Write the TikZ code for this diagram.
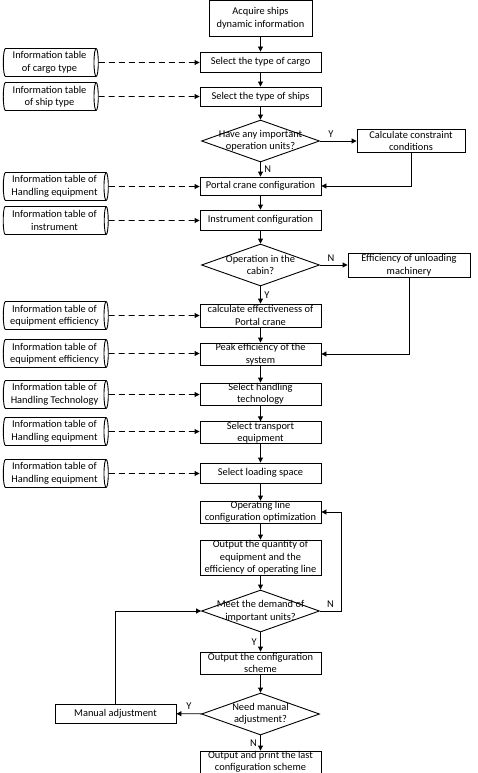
\documentclass[tikz,border=0pt]{standalone}
\usepackage{fontspec}
\setmainfont{Carlito}
\usetikzlibrary{arrows.meta,shapes.geometric,calc}

\begin{document}
\begin{tikzpicture}[x=1pt,y=-1pt,font=\fontsize{10.4}{12.5}\selectfont,
  box/.style={draw,line width=.9pt,minimum width=121,inner sep=0pt,align=center},
  dec/.style={draw,diamond,line width=.9pt,minimum width=118,minimum height=42,inner sep=0pt},
  dtext/.style={align=center,inner sep=0pt},
  db/.style={draw,cylinder,shape aspect=.2,line width=.9pt,minimum width=28,inner sep=0pt,align=center},
  arr/.style={-{Triangle[length=5pt,width=5pt]},line width=.9pt},
  darr/.style={arr,dash pattern=on 6pt off 4pt}]
\useasboundingbox (0,0) rectangle (478,773);
% main column
\node[box,minimum width=103,minimum height=36] (acq) at (260.5,18) {Acquire ships\\dynamic information};
\foreach \n/\y/\h/\t in {cargo/62/20/{Select the type of cargo},ships/96.5/19/{Select the type of ships},
  portal/186/18/{Portal crane configuration},instr/220/20/{Instrument configuration},
  calceff/315.5/23/{calculate effectiveness of\\Portal crane},peak/354/22/{Peak efficiency of the\\system},
  tech/394/22/{Select handling\\technology},trans/432.5/21/{Select transport\\equipment},
  load/473/20/{Select loading space},opt/512/22/{Operating line\\configuration optimization},
  out/557.5/35/{Output the quantity of\\equipment and the\\efficiency of operating line},
  scheme/663/22/{Output the configuration\\scheme},print/762/22/{Output and print the last\\configuration scheme}}
  \node[box,minimum height=\h] (\n) at (260.5,\y) {\t};
\node[dec,label={[dtext]center:Have any important\\operation units?}] (d1) at (260.5,141) {};
\node[dec,label={[dtext]center:Operation in the\\cabin?}] (d2) at (260.5,265) {};
\node[dec,label={[dtext]center:Meet the demand of\\important units?}] (d3) at (260.5,611) {};
\node[dec,label={[dtext]center:Need manual\\adjustment?}] (d4) at (260.5,714) {};
% side boxes
\node[box,minimum width=108,minimum height=23] (calc) at (411,141) {Calculate constraint\\conditions};
\node[box,minimum width=122,minimum height=24] (eff) at (409,265) {Efficiency of unloading\\machinery};
\node[box,minimum height=19] (manual) at (115.5,713.5) {Manual adjustment};
% information tables
\foreach \n/\y/\w/\t/\tgt in {c1/62.5/95/{Information table\\of cargo type}/cargo,
  c2/96.5/95/{Information table\\of ship type}/ships,
  c3/186.5/105/{Information table of\\Handling equipment}/portal,
  c4/220.5/105/{Information table of\\instrument}/instr,
  c5/315.5/105/{Information table of\\equipment efficiency}/calceff,
  c6/353.5/105/{Information table of\\equipment efficiency}/peak,
  c7/394.5/105/{Information table of\\Handling Technology}/tech,
  c8/431.5/105/{Information table of\\Handling equipment}/trans,
  c9/473.5/105/{Information table of\\Handling equipment}/load} {
  \node[db,minimum height=\w] (\n) at (2+\w/2,\y) {\t};
  \draw[darr] (\n) -- (\n -| \tgt.west);}
% flow
\foreach \a/\b in {acq/cargo,cargo/ships,ships/d1,portal/instr,instr/d2,calceff/peak,peak/tech,
  tech/trans,trans/load,load/opt,opt/out,out/d3,scheme/d4}
  \draw[arr] (\a) -- (\b);
\draw[arr] (d1) -- node[above,pos=.3] (y1) {Y} (calc);
\draw[arr] (d1) -- node[right] (n1) {N} (portal);
\draw[arr] (calc) |- (portal);
\draw[arr] (d2) -- node[above,pos=.4] (n2) {N} (eff);
\draw[arr] (d2) -- node[right] (y2) {Y} (calceff);
\draw[arr] (eff) |- (peak);
\draw[arr] (d3.east) -- node[above] (n3) {N} ++(21,0) |- (opt);
\draw[arr] (d3) -- node[left] (y3) {Y} (scheme);
\draw[arr] (d4) -- node[above] (y4) {Y} (manual);
\draw[arr] (d4) -- node[left] (n4) {N} (print);
\draw[arr] (manual) |- (d3);
\end{tikzpicture}
\end{document}
